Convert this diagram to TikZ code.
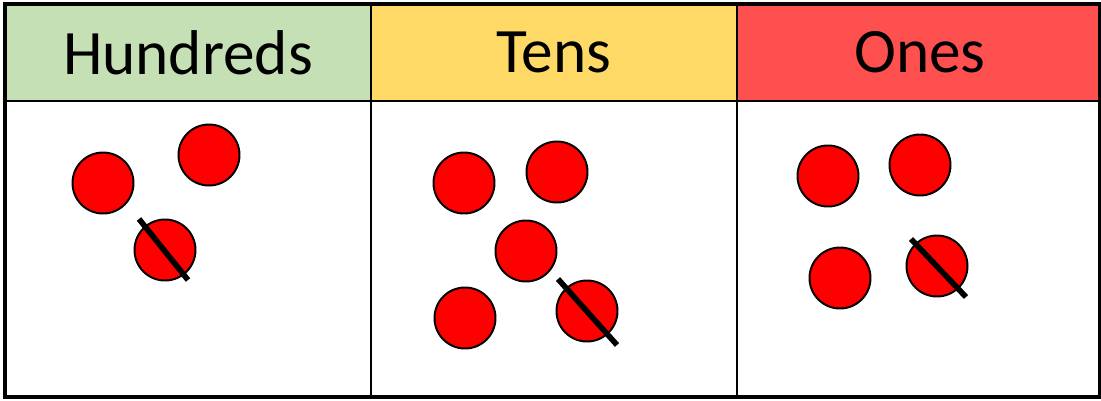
\documentclass[tikz,border=0pt]{standalone}
\usepackage{fontspec}
\setmainfont{Carlito}
\usetikzlibrary{calc,positioning}
\definecolor{colhund}{RGB}{197,224,180}
\definecolor{colten}{RGB}{255,217,102}
\definecolor{colone}{RGB}{255,80,80}
\definecolor{counterred}{RGB}{255,0,0}
\tikzset{
  headcell/.style={rectangle, draw=black, line width=1.4pt, minimum width=9.15cm,
                   minimum height=2.425cm, inner sep=0pt, font=\fontsize{45}{48}\selectfont},
  bodycell/.style={rectangle, draw=black, line width=1.4pt, fill=white,
                   minimum width=9.15cm, minimum height=7.4cm, inner sep=0pt},
  counter/.style={circle, draw=black, fill=counterred, line width=1.4pt,
                  minimum size=1.525cm, inner sep=0pt},
  strike/.style={line width=4pt, black},
  outline/.style={draw=black, line width=2.2pt},
}
\begin{document}
\begin{tikzpicture}[x=0.025cm, y=-0.025cm]
\useasboundingbox (0,0) rectangle (1101,401);
% header row
\node[headcell, fill=colhund] (hundreds) at (188,52.5) {Hundreds};
\node[headcell, fill=colten]  (tens)     at (554,52.5) {Tens};
\node[headcell, fill=colone]  (ones)     at (920,52.5) {Ones};
% place value columns
\node[bodycell] (hundcol) at (188,249) {};
\node[bodycell] (tencol)  at (554,249) {};
\node[bodycell] (onecol)  at (920,249) {};
\draw[outline] (5,4) rectangle (1100,397);
% counters
\node[counter] (h1) at (103,183) {};
\node[counter] (h2) at (209,155) {};
\node[counter] (h3) at (165,250) {};
\node[counter] (t1) at (464,183) {};
\node[counter] (t2) at (557,172) {};
\node[counter] (t3) at (526,251) {};
\node[counter] (t4) at (465,318) {};
\node[counter] (t5) at (587,311) {};
\node[counter] (o1) at (828,176) {};
\node[counter] (o2) at (920,165) {};
\node[counter] (o3) at (840,278) {};
\node[counter] (o4) at (937,266) {};
% crossed out counters
\draw[strike] ($(h3)+(-26,-31)$) -- ($(h3)+(23,30)$);
\draw[strike] ($(t5)+(-29,-32)$) -- ($(t5)+(30,34)$);
\draw[strike] ($(o4)+(-26,-27)$) -- ($(o4)+(29,31)$);
\end{tikzpicture}
\end{document}
